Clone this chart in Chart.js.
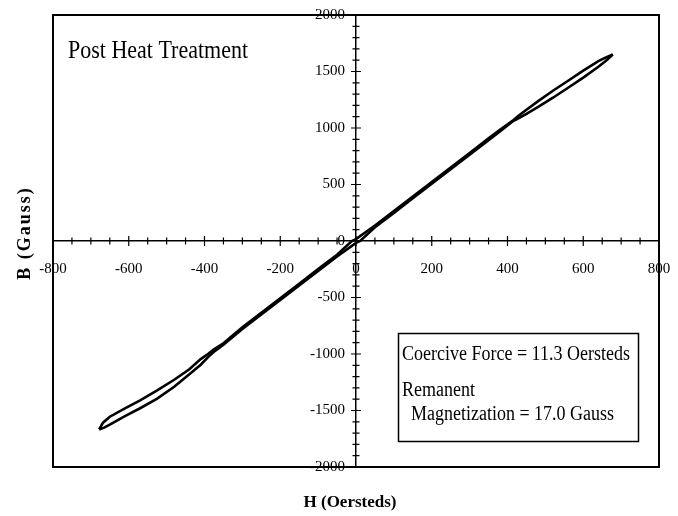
<!DOCTYPE html>
<html>
<head>
<meta charset="utf-8">
<script src="https://cdn.jsdelivr.net/npm/chart.js@4/dist/chart.umd.min.js"></script>
<style>
html,body{margin:0;padding:0;background:#fff;}
#wrap{width:678px;height:516px;position:relative;}
</style>
</head>
<body>
<div id="wrap"><canvas id="c" width="678" height="516"></canvas></div>
<script>
// Descending branch (from +Hmax to -Hmax)
const H_DESC = [678, 660, 640, 600, 560, 520, 480, 450, 430, 415, 380, 350, 300, 250, 200, 150, 100, 50, 0, -11, -50, -100, -150, -200, -250, -300, -350, -375, -390, -410, -440, -480, -525, -570, -610, -650, -668, -678];
const B_DESC = [1650, 1625, 1592, 1508, 1418, 1330, 1236, 1162, 1110, 1068, 985, 908, 779, 651, 522, 394, 265, 137, 17, 0, -121, -249, -378, -506, -635, -763, -905, -958, -998, -1045, -1135, -1228, -1322, -1410, -1482, -1555, -1608, -1668];
// Ascending branch (from -Hmax to +Hmax)
const H_ASC = [-678, -665, -650, -610, -570, -525, -480, -440, -410, -390, -375, -350, -300, -250, -200, -150, -100, -50, 0, 11, 50, 100, 150, 200, 250, 300, 350, 380, 415, 430, 450, 480, 520, 560, 600, 640, 660, 678];
const B_ASC = [-1668, -1652, -1625, -1550, -1480, -1395, -1290, -1180, -1095, -1025, -980, -918, -779, -651, -522, -394, -265, -137, -17, 0, 121, 249, 378, 506, 635, 763, 892, 970, 1062, 1088, 1125, 1185, 1268, 1356, 1446, 1542, 1596, 1650];

const X_MIN = -800, X_MAX = 800, X_LABEL_STEP = 200, X_MINOR_STEP = 50;
const Y_MIN = -2000, Y_MAX = 2000, Y_LABEL_STEP = 500, Y_MINOR_STEP = 100;

const PLOT_TITLE = 'Post Heat Treatment';
const X_TITLE = 'H (Oersteds)';
const Y_TITLE = 'B (Gauss)';
const NOTE_LINES = ['Coercive Force = 11.3 Oersteds', 'Remanent', '  Magnetization = 17.0 Gauss'];

const SERIF = '"Liberation Serif", "Times New Roman", serif';

const toPts = (hs, bs) => hs.map((h, i) => ({x: h, y: bs[i]}));

const decor = {
  id: 'decor',
  afterDraw(chart) {
    const ctx = chart.ctx;
    const a = chart.chartArea;
    const xs = chart.scales.x, ys = chart.scales.y;
    ctx.save();
    // frame
    ctx.strokeStyle = '#000';
    ctx.lineWidth = 2;
    ctx.strokeRect(a.left, a.top, a.right - a.left, a.bottom - a.top);
    // cross ticks on the centered axes
    const x0 = xs.getPixelForValue(0), y0 = ys.getPixelForValue(0);
    ctx.lineWidth = 1.2;
    ctx.beginPath();
    ys.ticks.forEach(t => {
      const py = ys.getPixelForValue(t.value);
      const L = (Math.abs(t.value % Y_LABEL_STEP) < 1e-6) ? 5 : 3.5;
      ctx.moveTo(x0 - L, py); ctx.lineTo(x0 + L, py);
    });
    xs.ticks.forEach(t => {
      const px = xs.getPixelForValue(t.value);
      const L = (Math.abs(t.value % X_LABEL_STEP) < 1e-6) ? 5 : 3.5;
      ctx.moveTo(px, y0 - L); ctx.lineTo(px, y0 + L);
    });
    ctx.stroke();

    ctx.fillStyle = '#000';
    // plot title
    ctx.font = '22px ' + SERIF;
    ctx.textAlign = 'left';
    ctx.textBaseline = 'alphabetic';
    ctx.save(); ctx.translate(68, 58); ctx.scale(1, 1.12); ctx.fillText(PLOT_TITLE, 0, 0); ctx.restore();

    // note box
    ctx.lineWidth = 1.5;
    ctx.strokeRect(398.5, 333.5, 240, 108);
    ctx.font = '18px ' + SERIF;
    const bl = [360, 396, 420];
    NOTE_LINES.forEach((s, i) => {
      ctx.save(); ctx.translate(402, bl[i]); ctx.scale(1, 1.2); ctx.fillText(s, 0, 0); ctx.restore();
    });

    // axis titles
    ctx.font = 'bold 17px ' + SERIF;
    ctx.textAlign = 'center';
    ctx.textBaseline = 'middle';
    ctx.fillText(X_TITLE, 350, 503);
    ctx.save();
    ctx.translate(25, 233);
    ctx.rotate(-Math.PI / 2);
    ctx.font = 'bold 18px ' + SERIF;
    try { ctx.letterSpacing = '2px'; } catch (e) {}
    ctx.fillText(Y_TITLE, 0, 0);
    ctx.restore();
    ctx.restore();
  }
};

new Chart(document.getElementById('c'), {
  type: 'scatter',
  data: {
    datasets: [
      {data: toPts(H_DESC, B_DESC), showLine: true, borderColor: '#000', borderWidth: 2.6, pointRadius: 0, fill: false, tension: 0},
      {data: toPts(H_ASC, B_ASC), showLine: true, borderColor: '#000', borderWidth: 2.6, pointRadius: 0, fill: false, tension: 0}
    ]
  },
  options: {
    responsive: false,
    animation: false,
    devicePixelRatio: 1,
    layout: {padding: {left: 53, top: 15, right: 19, bottom: 49}},
    plugins: {legend: {display: false}, tooltip: {enabled: false}},
    scales: {
      x: {
        type: 'linear', min: X_MIN, max: X_MAX, position: {y: 0},
        grid: {display: true, drawOnChartArea: false, drawTicks: true, tickLength: 19, tickColor: 'rgba(0,0,0,0)'},
        border: {display: true, color: '#000', width: 1.5},
        ticks: {
          stepSize: X_MINOR_STEP, autoSkip: false, maxRotation: 0, minRotation: 0, padding: 0,
          color: '#000', font: {family: SERIF, size: 15},
          callback: v => (Math.abs(v % X_LABEL_STEP) < 1e-6 ? String(v) : '')
        }
      },
      y: {
        type: 'linear', min: Y_MIN, max: Y_MAX, position: 'center',
        grid: {display: true, drawOnChartArea: false, drawTicks: true, tickLength: 11, tickColor: 'rgba(0,0,0,0)'},
        border: {display: true, color: '#000', width: 1.5},
        ticks: {
          stepSize: Y_MINOR_STEP, autoSkip: false, padding: 0,
          color: '#000', font: {family: SERIF, size: 15},
          callback: v => (Math.abs(v % Y_LABEL_STEP) < 1e-6 ? String(v) : '')
        }
      }
    }
  },
  plugins: [decor]
});
</script>
</body>
</html>
